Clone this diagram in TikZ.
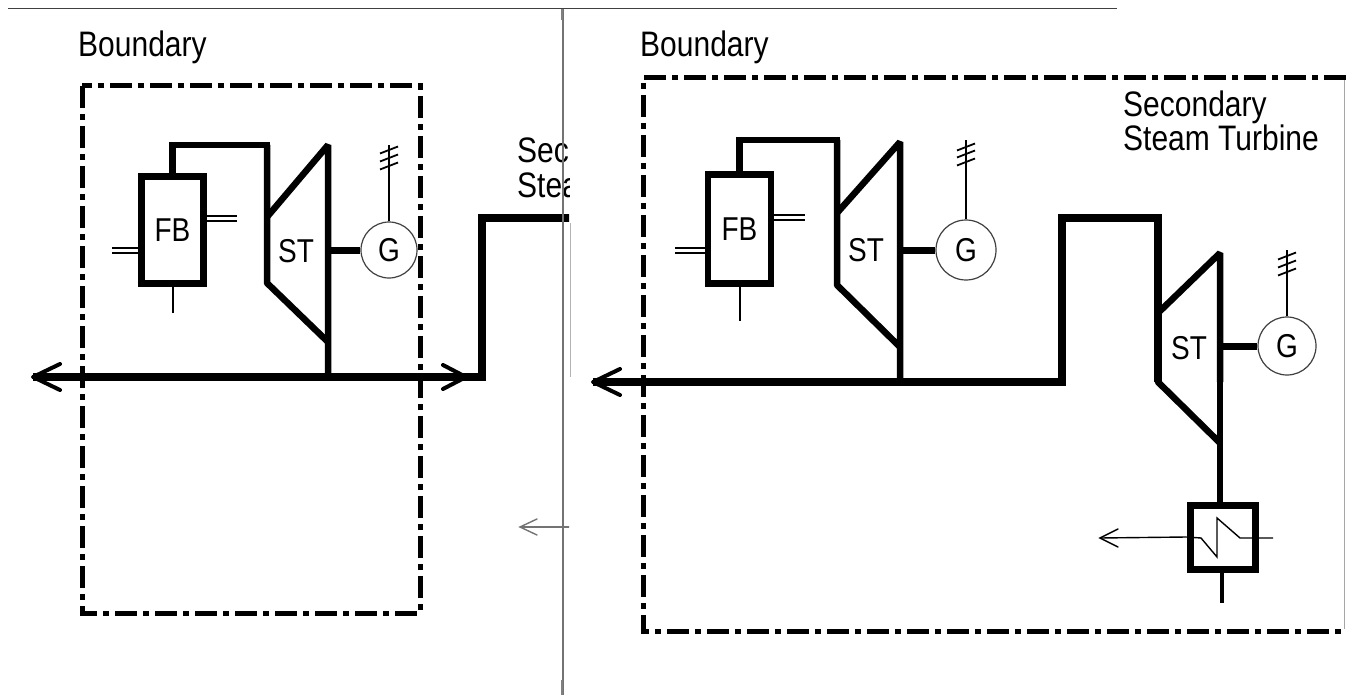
\documentclass[tikz,border=0pt]{standalone}
\usepackage{fontspec}
\setmainfont{Liberation Sans}
\newcommand{\tallt}[1]{\scalebox{1}[1.18]{#1}}
\begin{document}
\begin{tikzpicture}[x=1pt,y=-1pt,
  pipe/.style={line width=6.5pt, line join=miter, line cap=rect},
  mainline/.style={line width=7.5pt, line join=miter},
  stbody/.style={line width=6.5pt, line join=bevel},
  boundary/.style={line width=5pt, dash pattern=on 22pt off 6pt on 6pt off 6pt},
  thinpipe/.style={line width=1.3pt},
  chev/.style={line width=4pt, line cap=round, line join=round},
  gen/.style={circle, draw=black!75, line width=1.2pt, inner sep=0pt, font=\fontsize{28}{30}\selectfont},
  fbbox/.style={rectangle, draw, line width=6.5pt, inner sep=0pt, minimum width=62pt, minimum height=107pt, font=\fontsize{28}{30}\selectfont},
  hxbox/.style={rectangle, draw, line width=7pt, inner sep=0pt, minimum width=65pt, minimum height=64pt},
  lbl/.style={inner sep=0pt, font=\fontsize{28}{30}\selectfont},
  title/.style={inner sep=0pt, anchor=base west, font=\fontsize{30}{34}\selectfont},
  hash/.style={line width=1.8pt},
  antenna/.style={line width=1.5pt},
  thinarrow/.style={line width=1.4pt},
]
\useasboundingbox (0,0) rectangle (1346,695);
\fill[white] (0,0) rectangle (1346,695);

% frame lines
\draw[line width=1.5pt, black!75] (8,8.5) -- (1117,8.5);

% ---------------- left panel ----------------
\begin{scope}
\clip (0,0) rectangle (569,695);
\node[title] (bndL) at (78,57) {\tallt{Boundary}};
\draw[boundary] (82,86) rectangle (420,613);

\node[fbbox] (fbL) at (172.5,230) {\tallt{FB}};
\node[gen, minimum size=56pt] (gL) at (389,250) {\tallt{G}};
\node[lbl] (stL) at (296,251) {\tallt{ST}};

\coordinate (stLtop) at (267,145);
\draw[pipe] (fbL.north) |- (stLtop);
\draw[stbody] (stLtop) -- (267,283) -- (328,342);
\draw[stbody] (267,217) -- (328,145) -- (328,377);
\draw[line width=7pt] (gL.west -| 328,0) -- (gL.west);

% antenna
\coordinate (aL) at (389,145);
\draw[antenna] (gL.north) -- (aL);
\foreach \yy in {150,158,166}
  \draw[hash] (380,\yy+3.5) -- (398,\yy-3.5);

% FB side pipes
\draw[thinpipe] (fbL.east |- 0,216) -- (237,216);
\draw[thinpipe] (fbL.east |- 0,221) -- (237,221);
\draw[thinpipe] (112,248) -- (fbL.west |- 0,248);
\draw[thinpipe] (112,253) -- (fbL.west |- 0,253);
\draw[line width=2pt] (fbL.south) -- ++(0,26);

% main line
\coordinate (mLl) at (33,377);
\coordinate (mLc) at (482,377);
\draw[mainline] (mLl) -- (mLc) -- (482,218) -- (580,218);
\draw[chev] (60,364) -- (mLl) -- (60,390);
\draw[chev] (443,365) -- (466,377) -- (443,389);

\node[title] (secL) at (517,163) {\tallt{Secondary}};
\node[title] (steL) at (517,197) {\tallt{Steam Turbine}};

\coordinate (smallarrow) at (520,527);
\draw[thinarrow, black!55] (smallarrow) -- (580,527);
\draw[thinarrow, black!55, line cap=round] (537,519) -- (smallarrow) -- (537,535);
\end{scope}

\draw[line width=0.8pt, black!30] (570,223) -- (570,377);
\draw[line width=1.3pt, black!55] (563,9) -- (563,695);
\draw[line width=2.5pt, black!50] (561.8,9) -- (561.8,20);
\draw[line width=2.5pt, black!50] (561.8,680) -- (561.8,695);

% ---------------- right panel ----------------
\node[title] (bndR) at (640,57) {\tallt{Boundary}};
\draw[boundary] (1346,78) -- (643,78) -- (643,631) -- (1346,631);
\draw[line width=1pt, black!35] (1344.5,80) -- (1344.5,629);

\node[title] (secR) at (1123,117) {\tallt{Secondary}};
\node[title] (steR) at (1123,151) {\tallt{Steam Turbine}};

\node[fbbox, minimum width=63pt, minimum height=109pt] (fbR) at (739.5,229) {\tallt{FB}};
\node[gen, minimum size=60pt] (gR) at (966,250) {\tallt{G}};
\node[lbl] (stR) at (866,250) {\tallt{ST}};

\coordinate (stRtop) at (837,140);
\draw[pipe] (fbR.north) |- (stRtop);
\draw[stbody] (stRtop) -- (837,285) -- (900,347);
\draw[stbody] (837,213) -- (900,142) -- (900,382);
\draw[line width=7pt] (gR.west -| 900,0) -- (gR.west);

\coordinate (aR) at (966,140);
\draw[antenna] (gR.north) -- (aR);
\foreach \yy in {147,154,162}
  \draw[hash] (957,\yy+3.5) -- (975,\yy-3.5);

\draw[thinpipe] (fbR.east |- 0,215) -- (805,215);
\draw[thinpipe] (fbR.east |- 0,220) -- (805,220);
\draw[thinpipe] (675,248) -- (fbR.west |- 0,248);
\draw[thinpipe] (675,253) -- (fbR.west |- 0,253);
\draw[line width=2pt] (fbR.south) -- ++(0,34);

% secondary steam turbine
\node[hxbox] (hx) at (1222.5,537) {};
\node[gen, minimum size=58pt] (g2) at (1287,346) {\tallt{G}};
\node[lbl] (st2) at (1189,348) {\tallt{ST}};

\coordinate (mRl) at (593,382);
\draw[mainline] (mRl) -- (1062,382) -- (1062,218) -- (1158,218) -- (1158,382);
\draw[stbody] (1158,218) -- (1158,382) -- (1220,443);
\draw[stbody] (1158,313) -- (1220,253) -- (1220,382);
\draw[line width=6.5pt] (1220,382) -- (hx.north -| 1220,0);
\draw[chev] (620,369) -- (mRl) -- (620,395);
\draw[line width=7pt] (g2.west -| 1220,0) -- (g2.west);

\coordinate (a2) at (1287,250);
\draw[antenna] (g2.north) -- (a2);
\foreach \yy in {256,264,272}
  \draw[hash] (1278,\yy+3.5) -- (1296,\yy-3.5);

% heat exchanger
\coordinate (hxarrow) at (1100,538);
\draw[thinarrow] (hx.west) -- (hxarrow);
\draw[thinarrow, line cap=round] (1118,529) -- (hxarrow) -- (1118,547);
\draw[thinarrow] (hx.west) -- (1201,538) -- (1217,557) -- (1217,518) -- (1240,538) -- (1273,538);
\draw[line width=3.5pt] (hx.south -| 1222,0) -- (1222,603);
\end{tikzpicture}
\end{document}
